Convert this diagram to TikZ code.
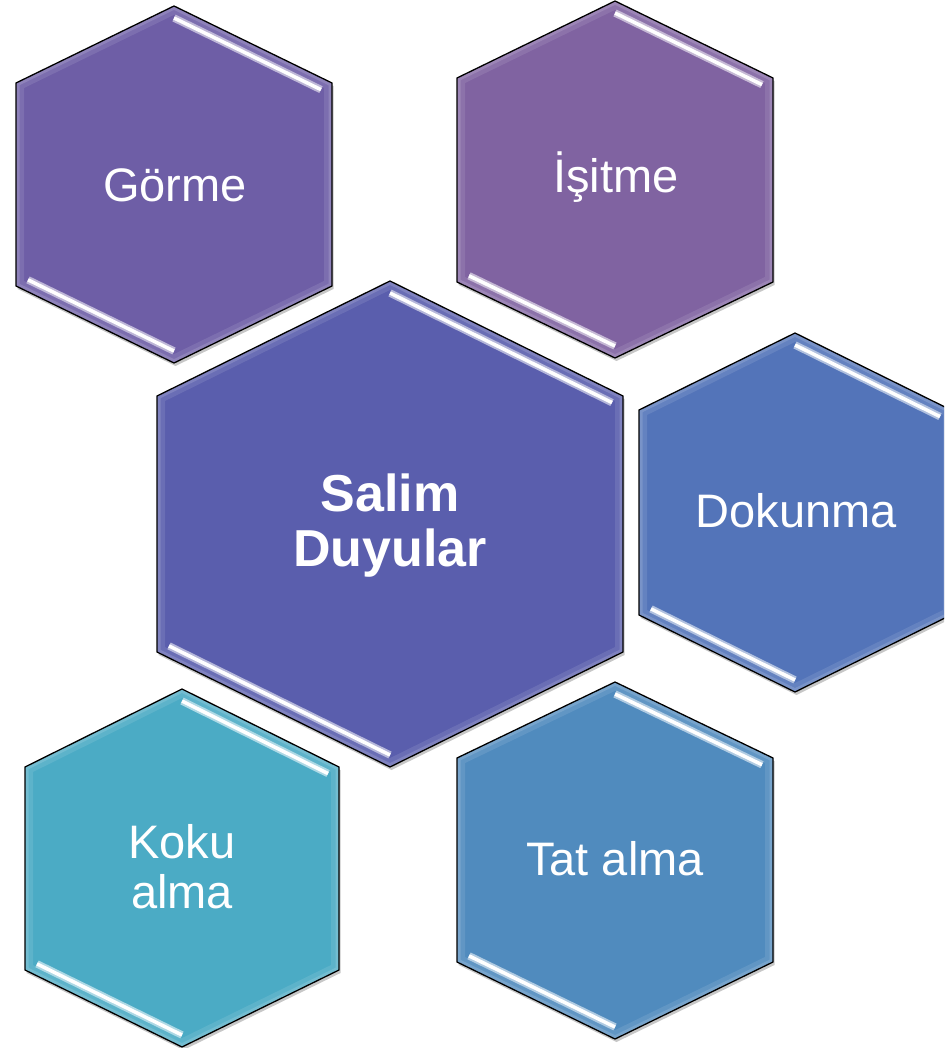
\documentclass[tikz,border=0pt]{standalone}
\usepackage{fontspec}
\setmainfont{Liberation Sans}
\usetikzlibrary{calc}
\definecolor{cgorme}{RGB}{110,94,166}
\definecolor{cisitme}{RGB}{128,99,161}
\definecolor{csalim}{RGB}{90,94,173}
\definecolor{cdokunma}{RGB}{83,116,185}
\definecolor{ckoku}{RGB}{75,171,197}
\definecolor{ctat}{RGB}{80,139,190}
\tikzset{
  hexborder/.style={draw=black,line width=1.3pt,line join=miter},
  lbl/.style={text=white,font=\fontsize{47}{50}\selectfont,inner sep=0pt,align=center},
  bigl/.style={text=white,font=\fontsize{52}{55}\selectfont\bfseries,inner sep=0pt,align=center}
}
% #1 cx, #2 top, #3 half width, #4 upper y, #5 lower y, #6 bottom, #7 colour
\newcommand\hexcell[7]{%
  \fill[black,opacity=0.22,shift={(1.5,3)}] (#1,#2) -- (#1+#3,#4) -- (#1+#3,#5) -- (#1,#6) -- (#1-#3,#5) -- (#1-#3,#4) -- cycle;
  \fill[#7] (#1,#2) -- (#1+#3,#4) -- (#1+#3,#5) -- (#1,#6) -- (#1-#3,#5) -- (#1-#3,#4) -- cycle;
  \begin{scope}
    \clip (#1,#2) -- (#1+#3,#4) -- (#1+#3,#5) -- (#1,#6) -- (#1-#3,#5) -- (#1-#3,#4) -- cycle;
    \draw[white,opacity=0.10,line width=16pt] (#1,#2) -- (#1+#3,#4) -- (#1+#3,#5) -- (#1,#6) -- (#1-#3,#5) -- (#1-#3,#4) -- cycle;
    \draw[white,opacity=0.14,line width=7pt] (#1,#2) -- (#1+#3,#4) -- (#1+#3,#5) -- (#1,#6) -- (#1-#3,#5) -- (#1-#3,#4) -- cycle;
  \end{scope}
  \draw[#7!45!white,line width=7.5pt] (#1,#2+12) -- ({#1+#3-11},{#2+(#4-#2)/#3*(#3-11)+12});
  \draw[white,line width=3.5pt] (#1,#2+12) -- ({#1+#3-11},{#2+(#4-#2)/#3*(#3-11)+12});
  \draw[#7!45!white,line width=7.5pt] ({#1-#3+12},{#5+(#6-#5)/#3*12-12}) -- (#1,#6-12);
  \draw[white,line width=3.5pt] ({#1-#3+12},{#5+(#6-#5)/#3*12-12}) -- (#1,#6-12);
  \draw[hexborder] (#1,#2) -- (#1+#3,#4) -- (#1+#3,#5) -- (#1,#6) -- (#1-#3,#5) -- (#1-#3,#4) -- cycle;
}
\begin{document}
\begin{tikzpicture}[x=1pt,y=-1pt]
\useasboundingbox (0,0) rectangle (944,1048);
\clip (0,0) rectangle (944,1048);
\hexcell{174}{6}{158}{83}{286}{363}{cgorme}
\hexcell{615}{1}{158}{78}{282}{358}{cisitme}
\hexcell{390}{281}{233}{396}{652}{767}{csalim}
\hexcell{795}{333}{156}{410}{615}{692}{cdokunma}
\hexcell{182}{689}{157}{767}{970}{1047}{ckoku}
\hexcell{615}{682}{158}{758}{962}{1039}{ctat}
\node[lbl,anchor=base] (gorme) at (175,202) {Görme};
\node[lbl,anchor=base] (isitme) at (616,193) {İşitme};
\node[bigl] (salim) at (390,526) {Salim\\Duyular};
\node[lbl,anchor=base] (dokunma) at (796,527) {Dokunma};
\node[lbl] (koku) at (182,866.5) {Koku\\alma};
\node[lbl,anchor=base] (tat) at (615,875) {Tat alma};
\end{tikzpicture}
\end{document}
